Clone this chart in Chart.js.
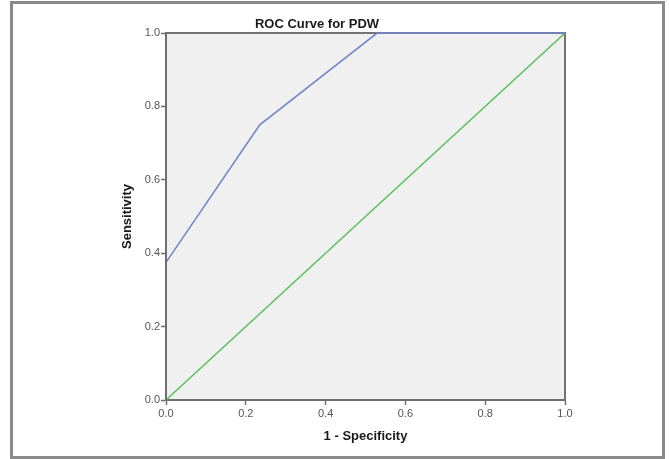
<!DOCTYPE html>
<html lang="en">
<head>
  <meta charset="UTF-8" />
  <title>ROC Curve for PDW</title>
  <script src="https://cdn.jsdelivr.net/npm/chart.js"></script>
  <style>
    html, body { margin: 0; padding: 0; background: #fff; }
    .wrap { position: relative; width: 669px; height: 459px; }
  </style>
</head>
<body>
  <div class="wrap">
    <canvas id="roc" width="669" height="459"></canvas>
  </div>

  <script>
    // ROC curve data
    const rocX = [0, 0, 0.235, 0.529, 1];
    const rocY = [0, 0.375, 0.75, 1, 1];
    const refX = [0, 1];
    const refY = [0, 1];
    const tickValues = [0, 0.2, 0.4, 0.6, 0.8, 1.0];

    const toPoints = (xs, ys) => xs.map((x, i) => ({ x: x, y: ys[i] }));

    // outer frame + grey plot box
    const framePlugin = {
      id: 'frame',
      beforeDraw(chart) {
        const ctx = chart.ctx;
        const a = chart.chartArea;
        ctx.save();
        ctx.fillStyle = '#fff';
        ctx.fillRect(0, 0, chart.width, chart.height);
        ctx.strokeStyle = '#8a8a8a';
        ctx.lineWidth = 3;
        ctx.strokeRect(11.5, 2.5, 652, 455);
        ctx.fillStyle = '#f0f0f0';
        ctx.fillRect(a.left, a.top, a.right - a.left, a.bottom - a.top);
        ctx.restore();
      },
      beforeDatasetsDraw(chart) {
        // top and right edges go under the curves
        const ctx = chart.ctx;
        const a = chart.chartArea;
        ctx.save();
        ctx.strokeStyle = '#737373';
        ctx.lineWidth = 2;
        ctx.beginPath();
        ctx.moveTo(a.left, a.top);
        ctx.lineTo(a.right, a.top);
        ctx.lineTo(a.right, a.bottom);
        ctx.stroke();
        ctx.restore();
      },
      afterDatasetsDraw(chart) {
        // left axis hides the vertical start of the curve
        const ctx = chart.ctx;
        const a = chart.chartArea;
        ctx.save();
        ctx.strokeStyle = '#6e6e6e';
        ctx.lineWidth = 2;
        ctx.beginPath();
        ctx.moveTo(a.left, a.bottom);
        ctx.lineTo(a.left, a.top);
        ctx.stroke();
        ctx.restore();
      }
    };

    const tickFont = { family: 'Liberation Sans, Arial, sans-serif', size: 11 };
    const titleFont = { family: 'Liberation Sans, Arial, sans-serif', size: 13, weight: 'bold' };

    new Chart(document.getElementById('roc'), {
      type: 'line',
      data: {
        datasets: [
          {
            label: 'ROC',
            data: toPoints(rocX, rocY),
            borderColor: '#7386cc',
            borderWidth: 1.6,
            pointRadius: 0,
            tension: 0,
            fill: false,
            clip: 2
          },
          {
            label: 'Reference',
            data: toPoints(refX, refY),
            borderColor: '#5cc15c',
            borderWidth: 1.6,
            pointRadius: 0,
            tension: 0,
            fill: false,
            clip: 2
          }
        ]
      },
      options: {
        responsive: false,
        animation: false,
        events: [],
        layout: { padding: { left: 69, right: 104, top: 4, bottom: 0 } },
        plugins: {
          legend: { display: false },
          tooltip: { enabled: false },
          title: {
            display: true,
            text: 'ROC Curve for PDW',
            color: '#1a1a1a',
            font: titleFont,
            padding: { top: 12.5, bottom: 0.9 }
          }
        },
        scales: {
          x: {
            type: 'linear',
            min: 0,
            max: 1,
            afterBuildTicks(scale) { scale.ticks = tickValues.map(v => ({ value: v })); },
            afterFit(scale) { scale.height = 59; },
            grid: { drawOnChartArea: false, tickLength: 5, tickColor: '#6e6e6e', tickWidth: 1.5 },
            border: { color: '#6e6e6e', width: 2 },
            ticks: {
              color: '#555',
              font: tickFont,
              padding: 2,
              maxRotation: 0,
              callback: v => v.toFixed(1)
            },
            title: {
              display: true,
              text: '1 - Specificity',
              color: '#1a1a1a',
              font: titleFont,
              padding: { top: 0, bottom: 15.2 }
            }
          },
          y: {
            type: 'linear',
            min: 0,
            max: 1,
            afterBuildTicks(scale) { scale.ticks = tickValues.map(v => ({ value: v })); },
            afterFit(scale) { scale.width = 97; },
            grid: { drawOnChartArea: false, tickLength: 5, tickColor: '#6e6e6e', tickWidth: 1.5 },
            border: { color: '#6e6e6e', width: 2 },
            ticks: {
              color: '#555',
              font: tickFont,
              padding: 1,
              callback: v => v.toFixed(1)
            },
            title: {
              display: true,
              text: 'Sensitivity',
              color: '#1a1a1a',
              font: titleFont,
              padding: { top: 51, bottom: 0 }
            }
          }
        }
      },
      plugins: [framePlugin]
    });
  </script>
</body>
</html>
